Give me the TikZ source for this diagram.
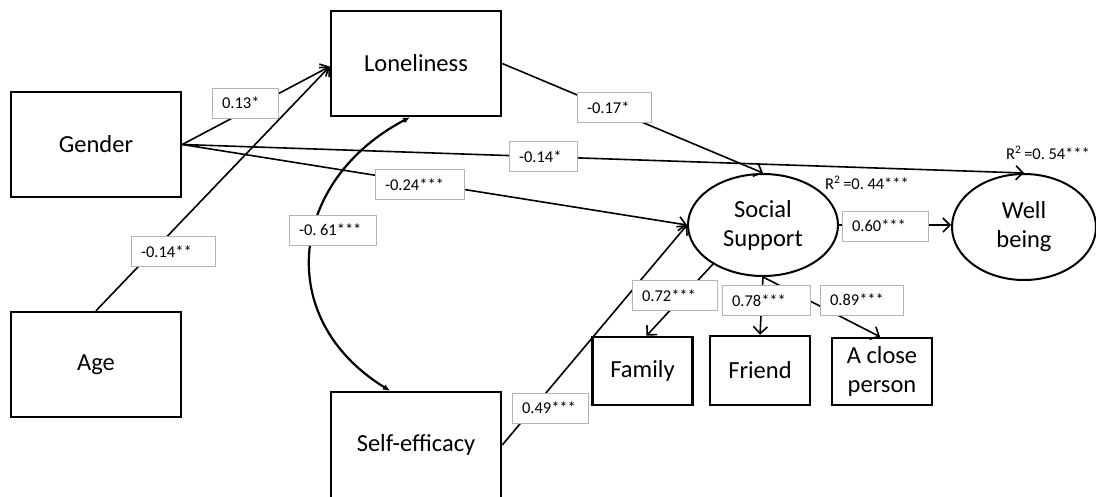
\documentclass[tikz,border=0pt]{standalone}
\usepackage{fontspec}
\setmainfont{Carlito}
\usetikzlibrary{arrows.meta,shapes.geometric,calc}
\definecolor{lblgray}{RGB}{180,180,180}
\begin{document}
\begin{tikzpicture}[x=1pt,y=-1pt,
  box/.style={draw, line width=2.5pt, rectangle, inner sep=0pt, font=\fontsize{24.5}{29}\selectfont, align=center},
  ell/.style={draw, line width=2pt, ellipse, inner sep=0pt, font=\fontsize{24.5}{29}\selectfont, align=center},
  lbl/.style={draw=lblgray, line width=0.9pt, fill=white, inner xsep=10pt, inner ysep=0pt, minimum height=30pt, font=\fontsize{16.5}{19}\selectfont, align=left},
  conn/.style={line width=1.6pt, -{Straight Barb[length=7pt,width=14pt]}},
  curv/.style={line width=2.2pt, {Latex[length=7pt,width=6pt]}-{Latex[length=7pt,width=6pt]}},
  rsq/.style={inner sep=0pt, anchor=west, font=\fontsize{16.5}{19}\selectfont}
]
\useasboundingbox (0,0) rectangle (1096,496);
\fill[white] (0,0) rectangle (1096,496);

% main boxes
\node[box, minimum width=170pt, minimum height=105pt] (ge) at (96,144.5) {Gender};
\node[box, minimum width=170pt, minimum height=105pt] (lo) at (416,63.5) {Loneliness};
\node[box, minimum width=170pt, minimum height=105pt] (ag) at (96,364.5) {Age};
\node[box, minimum width=170pt, minimum height=106pt] (se) at (416,445) {Self-efficacy};
\node[box, minimum width=100pt, minimum height=68pt] (fa) at (642.5,371) {Family};
\node[box, minimum width=100pt, minimum height=69pt] (fr) at (760,370.5) {Friend};
\node[box, minimum width=100pt, minimum height=67pt] (cp) at (882,371.5) {A close\\person};
\node[ell, minimum width=150pt, minimum height=102pt] (ss) at (763,225) {Social\\Support};
\node[ell, minimum width=144pt, minimum height=106pt] (wb) at (1024,227) {Well\\being};

% connectors
\draw[conn] (ge.east) -- ([yshift=-3pt]lo.west);
\draw[conn] (ag.north) -- ([yshift=-3pt]lo.west);
\draw[conn] (ge.east) -- (wb.north);
\draw[conn] (ge.east) -- (ss.west);
\draw[conn] (lo.east) -- (ss.north);
\draw[conn] (se.east) -- (ss.west);
\draw[conn] (ss.east) -- (ss.east -| wb.west);
\draw[conn] (ss.218) -- ([xshift=4pt]fa.north);
\draw[conn] (ss.south) -- (fr.north);
\draw[conn] (ss.south) -- ([xshift=-2pt]cp.north);
\draw[curv] ([xshift=-26pt]se.north) .. controls (272,318) and (290,180) .. ([xshift=-6pt]lo.south);

% coefficient labels
\node[lbl, text width=46pt] (l13) at (245,103) {0.13*};
\node[lbl, text width=64pt] (l14a) at (173,251.5) {-0.14**};
\node[lbl, text width=67pt] (l61) at (332.5,230) {-0.\hspace{3.5pt}61***};
\node[lbl, text width=54pt] (l17) at (614,107.5) {-0.17*};
\node[lbl, text width=48pt] (l14b) at (543,156.5) {-0.14*};
\node[lbl, text width=69pt] (l24) at (419.5,184.5) {-0.24***};
\node[lbl, text width=66pt] (l60) at (885,226) {0.60***};
\node[lbl, text width=65pt] (l72) at (674.5,295.5) {0.72***};
\node[lbl, text width=68pt] (l78) at (766,300.5) {0.78***};
\node[lbl, text width=63pt] (l89) at (861.5,300) {0.89***};
\node[lbl, text width=56pt] (l49) at (550,408) {0.49***};

% R-squared
\node[rsq] (r44) at (825,183) {R\textsuperscript{2}\,=0.\hspace{3.5pt}44***};
\node[rsq] (r54) at (1006,153) {R\textsuperscript{2}\,=0.\hspace{3.5pt}54***};
\end{tikzpicture}
\end{document}
